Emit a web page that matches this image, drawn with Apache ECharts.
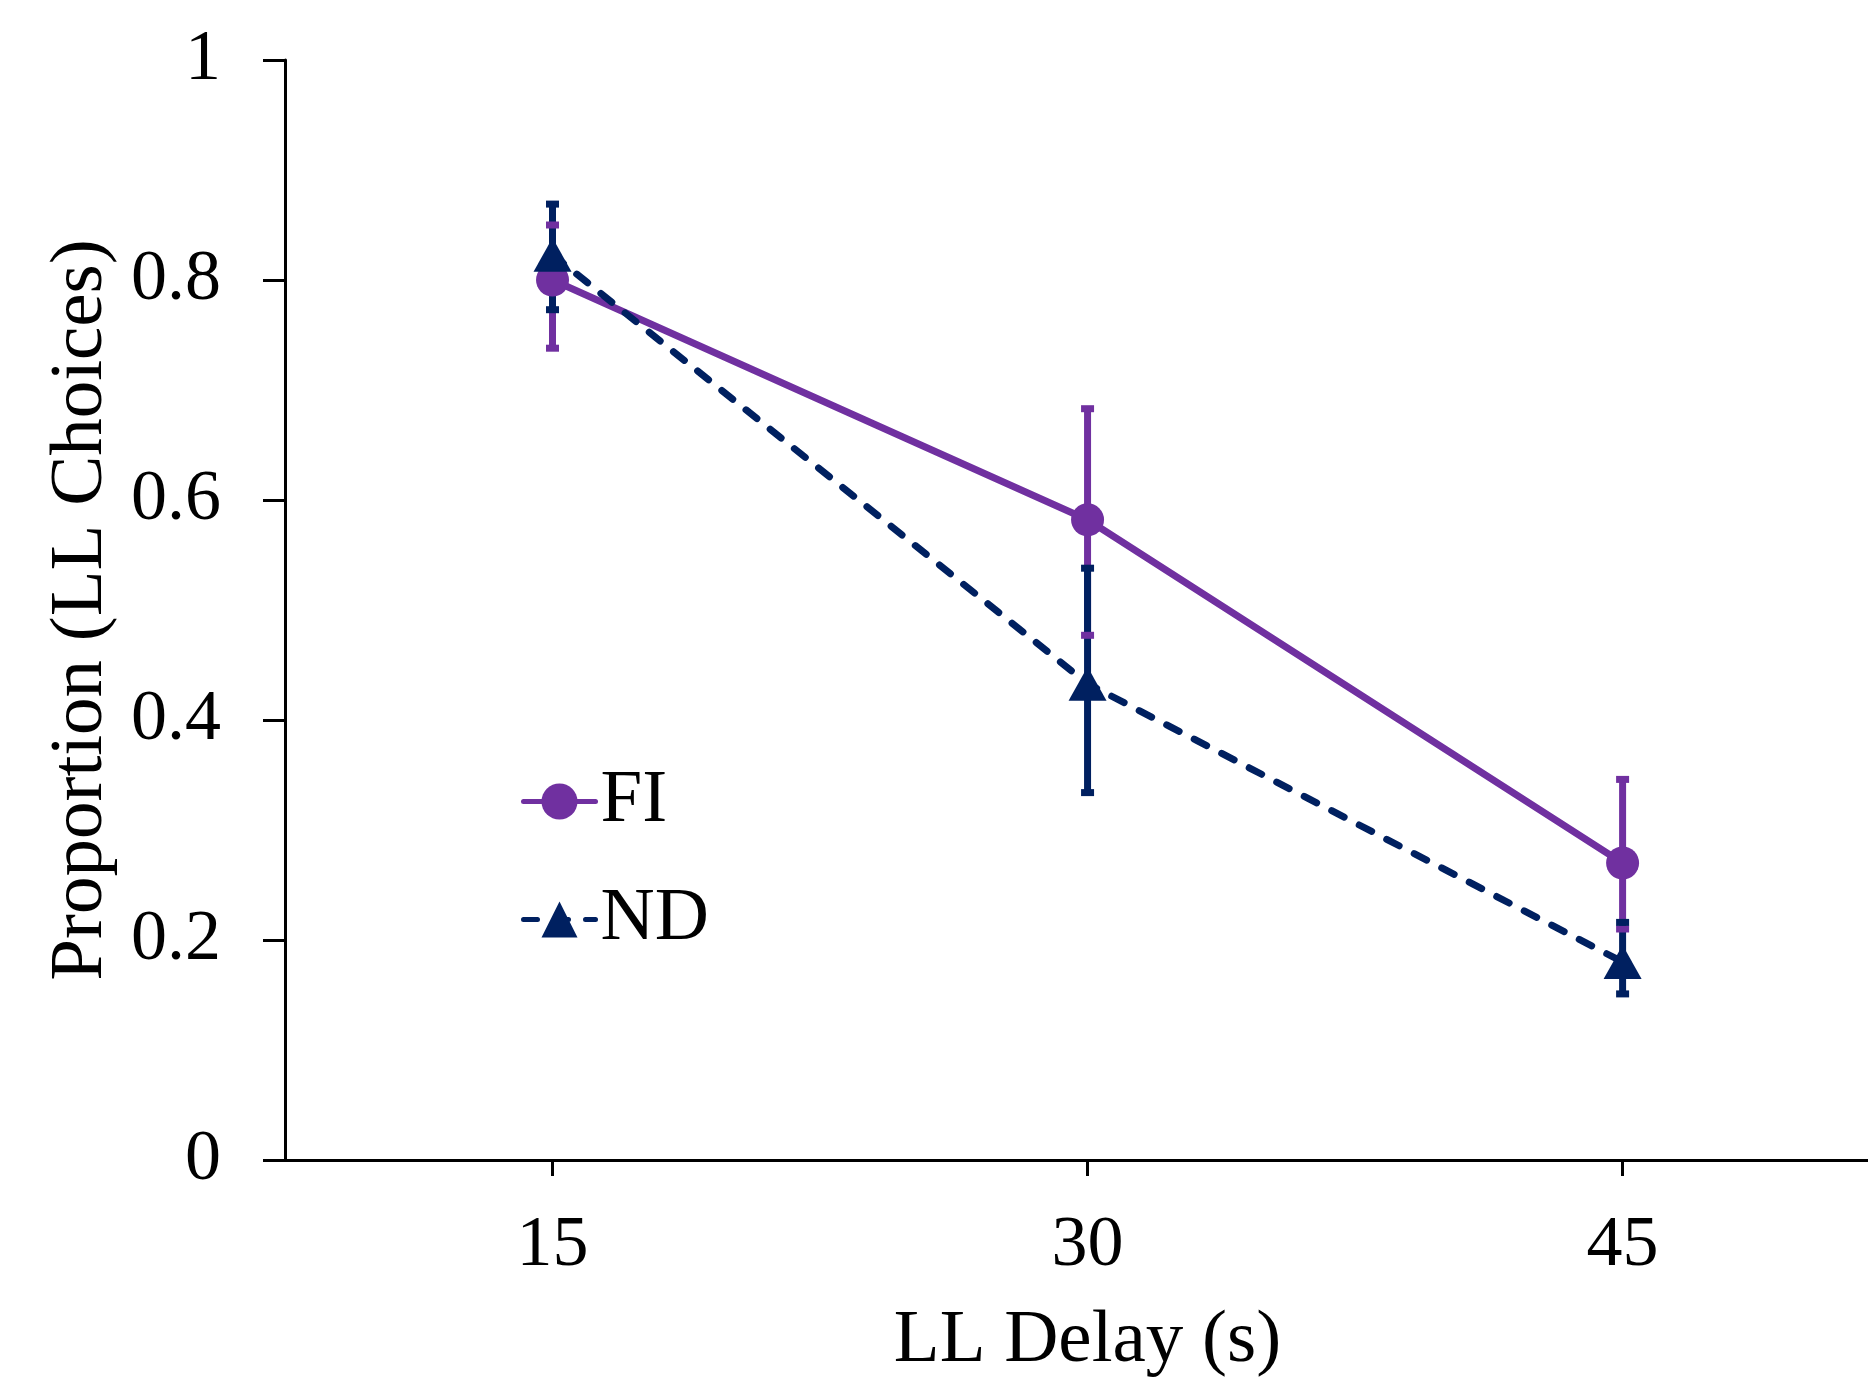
<!DOCTYPE html>
<html>
<head>
<meta charset="utf-8">
<script src="https://cdn.jsdelivr.net/npm/echarts@6/dist/echarts.min.js"></script>
<style>
  html, body { margin: 0; padding: 0; background: #ffffff; }
  #chart { width: 1868px; height: 1384px; }
</style>
</head>
<body>
<div id="chart"></div>
<script>
// ---- data ----
const delays = [15, 30, 45];
const xTickValues = [15, 30, 45];
const yTickValues = [0, 0.2, 0.4, 0.6, 0.8, 1];

const fiName = 'FI';
const fiMean  = [0.800, 0.582, 0.270];
const fiUpper = [0.850, 0.683, 0.346];
const fiLower = [0.738, 0.477, 0.210];

const ndName = 'ND';
const ndMean  = [0.823, 0.433, 0.180];
const ndUpper = [0.869, 0.538, 0.216];
const ndLower = [0.773, 0.334, 0.151];

const xAxisTitle = 'LL Delay (s)';
const yAxisTitle = 'Proportion (LL Choices)';

// ---- styles ----
const FONT = '"Liberation Serif", "Times New Roman", serif';
const PURPLE = '#7030A0';
const NAVY = '#002060';

const fiPoints = delays.map((d, i) => [d, fiMean[i]]);
const ndPoints = delays.map((d, i) => [d, ndMean[i]]);
const fiErr = delays.map((d, i) => [d, fiLower[i], fiUpper[i]]);
const ndErr = delays.map((d, i) => [d, ndLower[i], ndUpper[i]]);

function barSeries(data, color, z) {
  return {
    type: 'custom', data: data, z: z, silent: true,
    encode: { x: 0, y: [1, 2] },
    renderItem: function (params, api) {
      const x = api.value(0);
      const top = api.coord([x, api.value(2)]);
      const bot = api.coord([x, api.value(1)]);
      return {
        type: 'line',
        shape: { x1: top[0], y1: top[1], x2: bot[0], y2: bot[1] },
        style: { stroke: color, lineWidth: 7 }
      };
    }
  };
}
function capSeries(data, color, z) {
  return {
    type: 'custom', data: data, z: z, silent: true,
    encode: { x: 0, y: [1, 2] },
    renderItem: function (params, api) {
      const x = api.value(0);
      const top = api.coord([x, api.value(2)]);
      const bot = api.coord([x, api.value(1)]);
      const w = 13, h = 7;
      return {
        type: 'group',
        children: [
          { type: 'rect', shape: { x: top[0] - w / 2, y: top[1] - h / 2, width: w, height: h }, style: { fill: color } },
          { type: 'rect', shape: { x: bot[0] - w / 2, y: bot[1] - h / 2, width: w, height: h }, style: { fill: color } }
        ]
      };
    }
  };
}

const chart = echarts.init(document.getElementById('chart'), null, { renderer: 'canvas' });
chart.setOption({
  backgroundColor: '#ffffff',
  animation: false,
  grid: { left: 285, right: 0, top: 60, bottom: 224, containLabel: false },
  legend: {
    data: [fiName, ndName],
    orient: 'vertical',
    left: 521, top: 764,
    padding: 0,
    itemWidth: 72, itemHeight: 45, itemGap: 43,
    lineStyle: { width: 5 },
    textStyle: { fontFamily: FONT, fontSize: 75, lineHeight: 72, color: '#000' }
  },
  xAxis: {
    type: 'value',
    min: 7.5, max: 51.88,
    name: xAxisTitle,
    nameLocation: 'middle',
    nameGap: 144,
    nameTextStyle: { fontFamily: FONT, fontSize: 75, color: '#000', padding: [0, 0, 0, 22] },
    axisLine: { show: true, onZero: false, lineStyle: { color: '#000', width: 3 } },
    axisTick: { show: true, inside: false, length: 16, lineStyle: { color: '#000', width: 3 }, customValues: xTickValues },
    axisLabel: { fontFamily: FONT, fontSize: 72, color: '#000', margin: 50, customValues: xTickValues },
    splitLine: { show: false }
  },
  yAxis: {
    type: 'value',
    min: 0, max: 1, interval: 0.2,
    name: yAxisTitle,
    nameLocation: 'middle',
    nameGap: 166,
    nameRotate: 90,
    nameTextStyle: { fontFamily: FONT, fontSize: 75, color: '#000' },
    axisLine: { show: true, lineStyle: { color: '#000', width: 3 } },
    axisTick: { show: true, inside: false, length: 22, lineStyle: { color: '#000', width: 3 }, customValues: yTickValues },
    axisLabel: { fontFamily: FONT, fontSize: 72, color: '#000', margin: 64, customValues: yTickValues },
    splitLine: { show: false }
  },
  series: [
    barSeries(fiErr, PURPLE, 1),
    barSeries(ndErr, NAVY, 2),
    capSeries(fiErr, PURPLE, 3),
    capSeries(ndErr, NAVY, 4),
    {
      name: fiName, type: 'line', data: fiPoints, z: 5,
      symbol: 'circle', symbolSize: 33, showAllSymbol: true,
      lineStyle: { color: PURPLE, width: 7, cap: 'round' },
      itemStyle: { color: PURPLE, borderWidth: 0 }
    },
    {
      name: ndName, type: 'line', data: ndPoints, z: 6,
      symbol: 'triangle', symbolSize: [38, 34], showAllSymbol: true,
      lineStyle: { color: NAVY, width: 7, type: [14, 17], cap: 'round' },
      itemStyle: { color: NAVY, borderWidth: 0 }
    }
  ]
});
</script>
</body>
</html>
